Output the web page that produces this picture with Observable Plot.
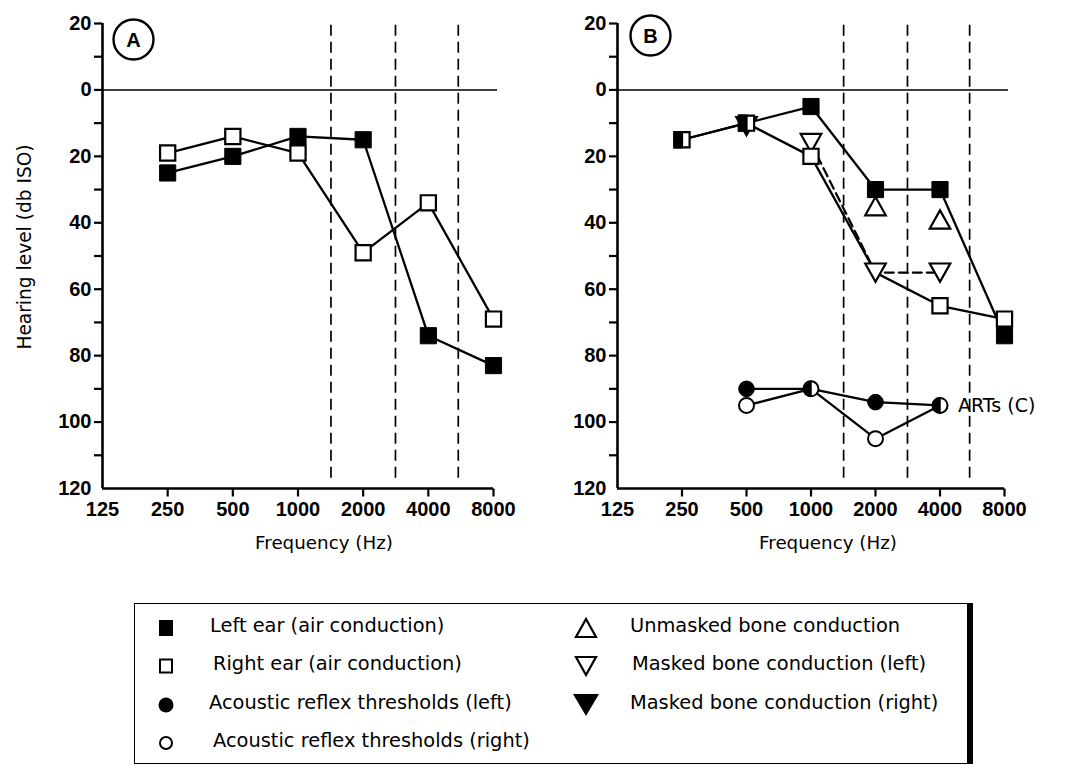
<!DOCTYPE html>
<html>
<head>
<meta charset="utf-8">
<script src="https://cdn.jsdelivr.net/npm/d3@7"></script>
<script src="https://cdn.jsdelivr.net/npm/@observablehq/plot@0.6"></script>
<style>
  html, body { margin: 0; padding: 0; background: #fff; }
  #wrap { position: relative; width: 1075px; height: 767px; background: #fff; overflow: hidden; }
  .panel { position: absolute; top: 0; }
  #legend {
    position: absolute; left: 134px; top: 603px; width: 832px; height: 159px;
    border: 1.5px solid #000; border-right: 6px solid #000; background: #fff;
    font-family: "DejaVu Sans", sans-serif; font-size: 19.4px; color: #000;
  }
  .item { position: absolute; display: flex; align-items: center; height: 30px; }
  .item svg { position: absolute; overflow: visible; }
  .item span { position: absolute; white-space: nowrap; }
</style>
</head>
<body>
<div id="wrap">
  <div id="panelA" class="panel" style="left:0px"></div>
  <div id="panelB" class="panel" style="left:537px"></div>
  <div id="legend"></div>
</div>
<script>
// ---------- data ----------
const freqTicks = [125, 250, 500, 1000, 2000, 4000, 8000];
const dashedFreqs = [1420, 2820, 5500];

// Panel A
const freqA = [250, 500, 1000, 2000, 4000, 8000];
const leftAirA = [25, 20, 14, 15, 74, 83];
const rightAirA = [19, 14, 19, 49, 34, 69];

// Panel B
const freqB = [250, 500, 1000, 2000, 4000, 8000];
const leftAirB = [15, 10, 5, 30, 30, 74];
const rightAirB = [15, 10, 20, 55, 65, 69];
const unmaskedBoneFreq = [2000, 4000];
const unmaskedBone = [35, 39];
const maskedLeftFreq = [1000, 2000, 4000];
const maskedLeft = [16, 55, 55];
const maskedRightFreq = [500];
const maskedRight = [11];
const artFreq = [500, 1000, 2000, 4000];
const artLeft = [90, 90, 94, 95];
const artRight = [95, 90, 105, 95];

const legendCol1 = ["Left ear (air conduction)", "Right ear (air conduction)",
  "Acoustic reflex thresholds (left)", "Acoustic reflex thresholds (right)"];
const legendCol2 = ["Unmasked bone conduction", "Masked bone conduction (left)",
  "Masked bone conduction (right)"];

// ---------- custom symbols ----------
const rad = size => Math.sqrt(size / Math.PI);
const sqSym = {draw(c, s) { const h = rad(s) * 0.95; c.moveTo(-h, -h); c.lineTo(h, -h); c.lineTo(h, h); c.lineTo(-h, h); c.closePath(); }};
const halfSqSym = {draw(c, s) { const h = rad(s) * 0.95; c.moveTo(-h, -h); c.lineTo(0, -h); c.lineTo(0, h); c.lineTo(-h, h); c.closePath(); }};
const triDownSym = {draw(c, s) { const r = rad(s); const w = r * 1.35, h = r * 1.2; c.moveTo(-w, -h); c.lineTo(w, -h); c.lineTo(0, h); c.closePath(); }};
const triUpSym = {draw(c, s) { const r = rad(s); const w = r * 1.35, h = r * 1.2; c.moveTo(-w, h); c.lineTo(w, h); c.lineTo(0, -h); c.closePath(); }};
const halfCircSym = {draw(c, s) { const r = rad(s); c.moveTo(0, -r); c.arc(0, 0, r, -Math.PI / 2, Math.PI / 2, true); c.closePath(); }};
// short downward tick stroke (8 px)
const tickDownSym = {draw(c) { c.moveTo(0, 0); c.lineTo(0, 8); }};

const recs = (fs, vs) => fs.map((f, i) => ({f, v: vs[i]}));

const TICKFONT = "Liberation Sans, Arial, sans-serif";
const LABELFONT = "DejaVu Sans, sans-serif";
const Y_BOTTOM = 120;

function frameMarks(label, letterDx, letterDy, xLabelDx, showYLabel) {
  const m = [
    Plot.ruleY([0], {x1: 125, x2: 8350, stroke: "#000", strokeWidth: 1.6}),
    Plot.ruleX(dashedFreqs, {y1: -19.5, y2: 118.5, stroke: "#000", strokeWidth: 1.7, strokeDasharray: "11,6"}),
    Plot.ruleX([125], {y1: -20, y2: Y_BOTTOM, stroke: "#000", strokeWidth: 2.6}),
    Plot.ruleY([Y_BOTTOM], {x1: 125, x2: 8000, stroke: "#000", strokeWidth: 2.6}),
    Plot.axisY({ticks: d3.range(-20, 111, 10), tickSize: 8, strokeWidth: 2.2, tickFormat: () => "", label: null}),
    Plot.axisY({ticks: d3.range(-20, 121, 20), tickSize: 0, tickPadding: 11, tickFormat: d => String(Math.abs(d)),
      fontSize: 20, fontWeight: "bold", fontFamily: TICKFONT, label: null}),
    // x ticks and tick labels
    Plot.dot(freqTicks.slice(1), {x: d => d, y: () => Y_BOTTOM, symbol: tickDownSym, r: 1, fill: "none", stroke: "#000", strokeWidth: 2.2}),
    Plot.text(freqTicks, {x: d => d, frameAnchor: "bottom", text: d => String(d), textAnchor: "middle", lineAnchor: "top",
      dy: 13, fontSize: 20, fontWeight: "bold", fontFamily: TICKFONT}),
    Plot.text(["Frequency (Hz)"], {frameAnchor: "bottom", textAnchor: "middle", lineAnchor: "middle", dx: xLabelDx, dy: 55, fontSize: 18.3, fontFamily: LABELFONT}),
    Plot.dot([label], {frameAnchor: "top-left", dx: letterDx, dy: letterDy, r: 20, stroke: "#000", strokeWidth: 2.4, fill: "#fff"}),
    Plot.text([label], {frameAnchor: "top-left", textAnchor: "middle", lineAnchor: "middle", dx: letterDx, dy: letterDy + 1, fontSize: 20, fontWeight: "bold", fontFamily: TICKFONT})
  ];
  if (showYLabel) {
    m.push(Plot.text(["Hearing level (db ISO)"], {frameAnchor: "left", textAnchor: "middle", lineAnchor: "middle", rotate: -90, dx: -77, dy: -9, fontSize: 18.6, fontFamily: LABELFONT}));
  }
  return m;
}

function basePlot(opts, marks) {
  return Plot.plot({
    width: opts.width, height: 572,
    marginTop: 23, marginBottom: 84, marginLeft: opts.marginLeft, marginRight: opts.marginRight,
    x: {type: "log", domain: [125, 8000], axis: null},
    y: {domain: [-20, 120], reverse: true, axis: null},
    style: {background: "#fff", color: "#000", overflow: "visible"},
    marks
  });
}

// ---------- Panel A ----------
const lA = recs(freqA, leftAirA), rA = recs(freqA, rightAirA);
const plotA = basePlot({width: 537, marginLeft: 102, marginRight: 44}, [
  ...frameMarks("A", 31, 16, 26, true),
  Plot.line(lA, {x: "f", y: "v", stroke: "#000", strokeWidth: 2.3}),
  Plot.line(rA, {x: "f", y: "v", stroke: "#000", strokeWidth: 2.3}),
  Plot.dot(rA, {x: "f", y: "v", symbol: sqSym, r: 8, fill: "#fff", stroke: "#000", strokeWidth: 2.2}),
  Plot.dot(lA, {x: "f", y: "v", symbol: sqSym, r: 8.5, fill: "#000", stroke: "#000", strokeWidth: 1})
]);
document.getElementById("panelA").appendChild(plotA);

// ---------- Panel B ----------
const lB = recs(freqB, leftAirB), rB = recs(freqB, rightAirB);
const same = freqB.filter((f, i) => leftAirB[i] === rightAirB[i]);
const bothB = lB.filter(d => same.includes(d.f));
const leftOnlyB = lB.filter(d => !same.includes(d.f));
const mlB = recs(maskedLeftFreq, maskedLeft);
// right-ear squares not drawn where a masked bone symbol sits on the same point
const rightOnlyB = rB.filter(d => !same.includes(d.f) && !mlB.some(m => m.f === d.f && m.v === d.v));
const ubB = recs(unmaskedBoneFreq, unmaskedBone);
const mrB = recs(maskedRightFreq, maskedRight);
const artL = recs(artFreq, artLeft), artR = recs(artFreq, artRight);
const artSame = artFreq.filter((f, i) => artLeft[i] === artRight[i]);
const artBoth = artL.filter(d => artSame.includes(d.f));
const artLOnly = artL.filter(d => !artSame.includes(d.f));
const artROnly = artR.filter(d => !artSame.includes(d.f));
const artLabel = [{f: artFreq[artFreq.length - 1], v: artRight[artRight.length - 1], t: "ARTs (C)"}];

const plotB = basePlot({width: 538, marginLeft: 80, marginRight: 71}, [
  ...frameMarks("B", 33, 12, 17, false),
  Plot.line(lB, {x: "f", y: "v", stroke: "#000", strokeWidth: 2.3}),
  Plot.line(rB, {x: "f", y: "v", stroke: "#000", strokeWidth: 2.3}),
  Plot.line(mlB, {x: "f", y: "v", stroke: "#000", strokeWidth: 2.2, strokeDasharray: "9,5"}),
  Plot.line(artL, {x: "f", y: "v", stroke: "#000", strokeWidth: 2.3}),
  Plot.line(artR, {x: "f", y: "v", stroke: "#000", strokeWidth: 2.3}),
  // bone conduction triangles
  Plot.dot(mrB, {x: "f", y: "v", symbol: triDownSym, r: 8, fill: "#000", stroke: "#000", strokeWidth: 1.5}),
  Plot.dot(mlB, {x: "f", y: "v", symbol: triDownSym, r: 7.6, fill: "#fff", stroke: "#000", strokeWidth: 2.2}),
  Plot.dot(ubB, {x: "f", y: "v", symbol: triUpSym, r: 7.6, fill: "#fff", stroke: "#000", strokeWidth: 2.2}),
  // air conduction squares
  Plot.dot(rightOnlyB, {x: "f", y: "v", symbol: sqSym, r: 8, fill: "#fff", stroke: "#000", strokeWidth: 2.2}),
  Plot.dot(leftOnlyB, {x: "f", y: "v", symbol: sqSym, r: 8.5, fill: "#000", stroke: "#000", strokeWidth: 1}),
  Plot.dot(bothB, {x: "f", y: "v", symbol: sqSym, r: 8, fill: "#fff", stroke: "#000", strokeWidth: 2.2}),
  Plot.dot(bothB, {x: "f", y: "v", symbol: halfSqSym, r: 8, fill: "#000", stroke: "#000", strokeWidth: 2.2}),
  // acoustic reflex thresholds
  Plot.dot(artROnly, {x: "f", y: "v", r: 7.5, fill: "#fff", stroke: "#000", strokeWidth: 2}),
  Plot.dot(artLOnly, {x: "f", y: "v", r: 7.8, fill: "#000", stroke: "#000", strokeWidth: 1}),
  Plot.dot(artBoth, {x: "f", y: "v", r: 7.5, fill: "#fff", stroke: "#000", strokeWidth: 2}),
  Plot.dot(artBoth, {x: "f", y: "v", symbol: halfCircSym, r: 7.5, fill: "#000", stroke: "#000", strokeWidth: 1.5}),
  Plot.text(artLabel, {x: "f", y: "v", text: "t", textAnchor: "start", dx: 18, fontSize: 19, fontFamily: LABELFONT})
]);
document.getElementById("panelB").appendChild(plotB);

// ---------- Legend ----------
const legend = document.getElementById("legend");
const swatches1 = [
  '<rect x="-7" y="-8" width="14" height="16" fill="#000"/>',
  '<rect x="-6" y="-6.5" width="12" height="13" fill="#fff" stroke="#000" stroke-width="2"/>',
  '<circle r="7.5" fill="#000"/>',
  '<circle r="6" fill="#fff" stroke="#000" stroke-width="2"/>'
];
const swatches2 = [
  '<path d="M-10,9L10,9L0,-9Z" fill="#fff" stroke="#000" stroke-width="2.2"/>',
  '<path d="M-10,-9L10,-9L0,9Z" fill="#fff" stroke="#000" stroke-width="2.2"/>',
  '<path d="M-13,-11L13,-11L0,11Z" fill="#000"/>'
];
const rowsY = [24, 62, 101, 139];
const col1TextX = [75, 78, 74, 78];
const col2TextX = [495, 497, 495];
legendCol1.forEach((t, i) => {
  const d = document.createElement("div");
  d.className = "item";
  d.style.left = "0px"; d.style.top = (rowsY[i] - 15) + "px";
  d.innerHTML = `<svg width="1" height="1" style="left:31px;top:15px">${swatches1[i]}</svg><span style="left:${col1TextX[i]}px;top:1px">${t}</span>`;
  legend.appendChild(d);
});
legendCol2.forEach((t, i) => {
  const d = document.createElement("div");
  d.className = "item";
  d.style.left = "0px"; d.style.top = (rowsY[i] - 15) + "px";
  d.innerHTML = `<svg width="1" height="1" style="left:451px;top:15px">${swatches2[i]}</svg><span style="left:${col2TextX[i]}px;top:1px">${t}</span>`;
  legend.appendChild(d);
});
</script>
</body>
</html>
